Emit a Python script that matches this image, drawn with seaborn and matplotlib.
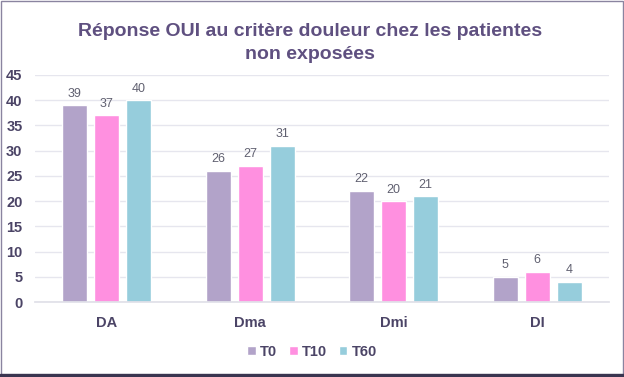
import matplotlib
matplotlib.use("Agg")
import matplotlib.pyplot as plt
import matplotlib.patches as mpatches
import pandas as pd
import seaborn as sns

categories = ["DA", "Dma", "Dmi", "DI"]
series = ["T0", "T10", "T60"]
t0 = [39, 26, 22, 5]
t10 = [37, 27, 20, 6]
t60 = [40, 31, 21, 4]
palette = ["#b2a3c9", "#ff90e0", "#96cddc"]

title_color = "#5f5080"
tick_color = "#4b4466"

df = pd.DataFrame({
    "cat": categories * 3,
    "serie": [s for s in series for _ in categories],
    "value": t0 + t10 + t60,
})

sns.set_theme(style="white")
plt.rcParams["font.family"] = ["Liberation Sans", "DejaVu Sans"]

fig = plt.figure(figsize=(6.24, 3.77), dpi=100)
ax = fig.add_axes([35 / 624, 1 - 302 / 377, 574 / 624, 227 / 377])

sns.barplot(
    data=df, x="cat", y="value", hue="serie", palette=palette,
    width=0.67, gap=0.21, saturation=1, ax=ax, legend=True,
)

ax.set_ylim(0, 45)
ax.set_yticks(range(0, 50, 5))
ax.grid(axis="y", color="#e6e6ee", linewidth=1)
ax.set_axisbelow(True)
for s in ["top", "right", "left"]:
    ax.spines[s].set_visible(False)
ax.spines["bottom"].set_color("#e0e0e8")
ax.set_xlabel("")
ax.set_ylabel("")
ax.tick_params(axis="both", length=0)
ax.tick_params(axis="y", pad=9)
ax.tick_params(axis="x", pad=10)
for lbl in ax.get_yticklabels() + ax.get_xticklabels():
    lbl.set_fontweight("bold")
    lbl.set_color(tick_color)
    lbl.set_fontsize(10.5)

for cont in ax.containers:
    ax.bar_label(cont, padding=4, fontsize=9, color="#606070")

ax.legend(
    loc="center", bbox_to_anchor=(312 / 624, 1 - 352 / 377),
    bbox_transform=fig.transFigure, ncol=3, frameon=False,
    handlelength=0.6, handleheight=0.6, handletextpad=0.3, columnspacing=0.8,
    prop={"weight": "bold", "size": 10.5},
)
for t in ax.get_legend().get_texts():
    t.set_color(tick_color)

fig.text(310 / 624, 1 - 43 / 377, "Réponse OUI au critère douleur chez les patientes\nnon exposées",
         ha="center", va="center", fontsize=14, fontweight="bold", color=title_color,
         linespacing=1.5)

fig.patches.append(mpatches.Rectangle((0.5 / 624, 2 / 377), 622 / 624, 374 / 377,
                                      transform=fig.transFigure, fill=False,
                                      edgecolor="#8a84a0", linewidth=1.0))
fig.patches.append(mpatches.Rectangle((0, 0), 1, 3 / 377, transform=fig.transFigure,
                                      color="#3a3550"))

fig.savefig("out.png", dpi=100)
